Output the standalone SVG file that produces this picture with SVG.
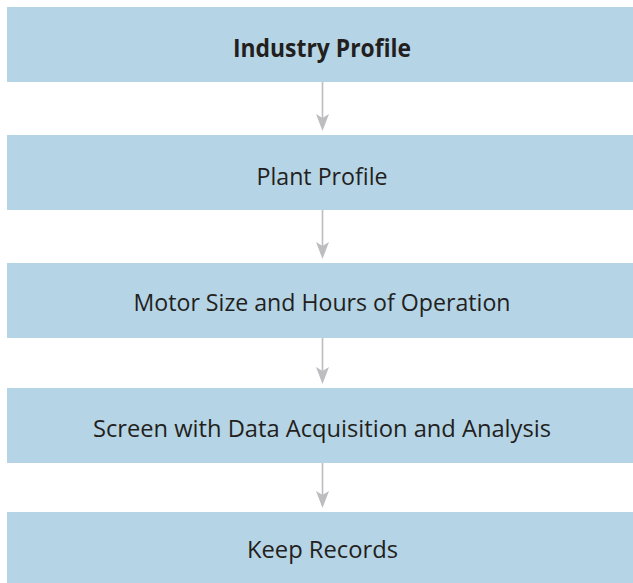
<svg xmlns="http://www.w3.org/2000/svg" width="633" height="583" viewBox="0 0 633 583">
<style>
.box{fill:#b5d4e5}
.t{font-family:"Open Sans","Liberation Sans",sans-serif;font-size:24.5px;fill:#231f20;text-anchor:middle}
.b{font-weight:bold}
.ln{stroke:#bdbdc1;stroke-width:1.6;fill:none}
.ah{fill:#bdbdc1}
</style>
<rect width="633" height="583" fill="#fff"/>
<g id="connectors">
<line class="ln" x1="322.5" y1="82" x2="322.5" y2="122"/>
<polygon class="ah" points="316,114 322.5,118 329,114 322.5,131"/>
<line class="ln" x1="322.5" y1="210" x2="322.5" y2="250"/>
<polygon class="ah" points="316,242 322.5,246 329,242 322.5,259"/>
<line class="ln" x1="322.5" y1="338" x2="322.5" y2="375"/>
<polygon class="ah" points="316,367 322.5,371 329,367 322.5,384"/>
<line class="ln" x1="322.5" y1="463" x2="322.5" y2="499"/>
<polygon class="ah" points="316,491 322.5,495 329,491 322.5,508"/>
</g>
<g id="n1"><rect class="box" x="7" y="7" width="626" height="75"/><text class="t b" x="322" y="57" textLength="178" lengthAdjust="spacingAndGlyphs">Industry Profile</text></g>
<g id="n2"><rect class="box" x="7" y="135" width="626" height="75"/><text class="t" x="322" y="185" textLength="131" lengthAdjust="spacingAndGlyphs">Plant Profile</text></g>
<g id="n3"><rect class="box" x="7" y="263" width="626" height="75"/><text class="t" x="322" y="311" textLength="377" lengthAdjust="spacingAndGlyphs">Motor Size and Hours of Operation</text></g>
<g id="n4"><rect class="box" x="7" y="388" width="626" height="75"/><text class="t" x="322" y="437" textLength="458" lengthAdjust="spacingAndGlyphs">Screen with Data Acquisition and Analysis</text></g>
<g id="n5"><rect class="box" x="7" y="512" width="626" height="71"/><text class="t" x="322.5" y="558" textLength="151" lengthAdjust="spacingAndGlyphs">Keep Records</text></g>
</svg>
